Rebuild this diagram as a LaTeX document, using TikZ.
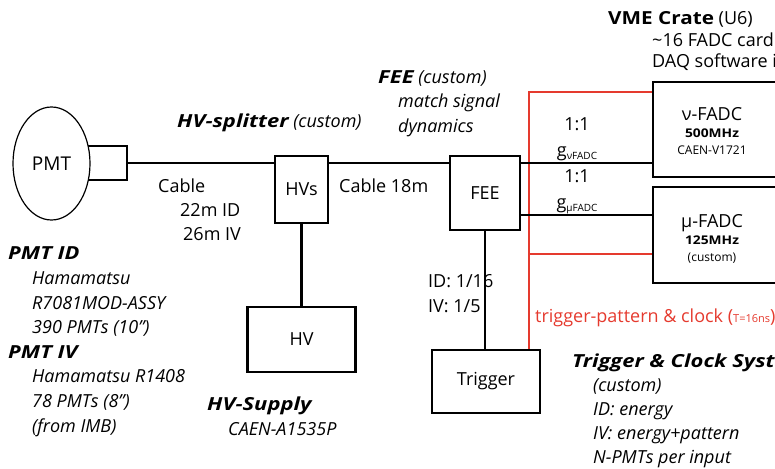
\documentclass[tikz,border=0pt]{standalone}
\usepackage{fontspec}
\setmainfont{Open Sans}[
  BoldFeatures={FakeStretch=1.15},
  BoldItalicFeatures={FakeStretch=1.22}]
\usetikzlibrary{positioning, shapes.geometric, calc}
\definecolor{cCLK}{HTML}{E53A2E}
\newcommand{\fsz}[2]{\fontsize{#1}{#2}\selectfont}
\tikzset{
  unitbox/.style 2 args={
    draw=black, line width=2.2pt,
    fill=white,
    inner sep=0pt,
    minimum width=#1,
    minimum height=#2,
    font=\fsz{18}{20}
  },
  pmtshape/.style={
    ellipse, draw=black, line width=1.2pt,
    fill=white, inner sep=0pt,
    minimum width=77pt, minimum height=113pt,
    font=\fsz{19}{22}
  },
  wire/.style={line width=2.2pt, draw=black},
  clkwire/.style={line width=1.8pt, draw=cCLK},
  note/.style={
    anchor=base west, inner sep=0pt,
    align=left,
    font=\fsz{18}{24.5}\itshape
  },
  plainnote/.style={
    note,
    font=\fsz{18}{24.5}
  }
}
\newcommand{\gsub}[1]{g\raisebox{-0.4ex}{\fsz{10}{10}#1}}
\newcommand{\fadcbox}[3]{%
  \begin{tabular}[t]{@{}c@{}}%
    {\fsz{18}{20}#1}\\[5pt]%
    {\fsz{12}{14}\bfseries #2}\\[5pt]%
    {\fsz{12}{14}#3}%
  \end{tabular}%
}

\begin{document}
\begin{tikzpicture}[x=1pt, y=-1pt]
  \useasboundingbox (0,0) rectangle (775,468);
  \clip (0,0) rectangle (775,468);

  % boxes
  \node[unitbox={39pt}{34pt}] (pmtbase) at (107.5,163) {};
  \node[pmtshape] (pmt) at (51.5,163.5) {PMT};
  \node[unitbox={53pt}{67pt}] (hvs) at (301.5,189.5) {HVs};
  \node[unitbox={108pt}{65pt}] (hv) at (301.5,339.5) {HV};
  \node[unitbox={70pt}{74pt}] (fee) at (485,193) {FEE};
  \node[unitbox={108pt}{63pt}] (trig) at (486,381.5) {Trigger};
  \node[unitbox={150pt}{95pt}] (vfadc) at (728,129.5) {};
  \node[unitbox={150pt}{96pt}] (mufadc) at (728,235) {};
  \node[anchor=base, inner sep=0pt] (vfadcTxt) at (712,120) {\fadcbox{ν-FADC}{500MHz}{CAEN-V1721}};
  \node[anchor=base, inner sep=0pt] (mufadcTxt) at (712,227) {\fadcbox{μ-FADC}{125MHz}{(custom)}};

  % trigger pattern and clock
  \coordinate (clktop) at (529,92);
  \coordinate (clkmu) at (529,254);
  \draw[clkwire] (trig.north -| clktop) -- (clktop) -- (clktop -| vfadc.west);
  \draw[clkwire] (clkmu) -- (clkmu -| mufadc.west);

  % signal and HV cables
  \draw[wire] (pmtbase.east) -- (pmtbase.east -| hvs.west);
  \draw[wire] (hvs.east |- pmtbase.east) -- (fee.west |- pmtbase.east);
  \draw[wire] (fee.east |- pmtbase.east) -- (vfadc.west |- pmtbase.east);
  \draw[wire] (fee.east |- 0,215) -- (mufadc.west |- 0,215);
  \draw[wire] (hvs) -- (hv);
  \draw[wire] (fee.south) -- (fee.south |- trig.north);

  % labels (placed at the baseline of their last line)
  \node[note] (splitNote) at (177,128) {\textbf{HV-splitter} (custom)};
  \node[plainnote, font=\fsz{18}{24}] (cableNote) at (158,240) {Cable\\\hspace*{22pt}22m ID\\\hspace*{25pt}26m IV};
  \node[note, font=\fsz{18}{24.6}\itshape] (pmtNote) at (8,432) {\textbf{PMT ID}\\\hspace*{24pt}Hamamatsu\\\hspace*{24pt}R7081MOD-ASSY\\\hspace*{24pt}390 PMTs (10”)\\\textbf{PMT IV}\\\hspace*{24pt}Hamamatsu R1408\\\hspace*{24pt}78 PMTs (8”)\\\hspace*{24pt}(from IMB)};
  \node[note, font=\fsz{18}{25}\itshape] (supplyNote) at (207,435) {\textbf{HV-Supply}\\\hspace*{21pt}CAEN-A1535P};
  \node[plainnote] (cable2Note) at (339,192) {Cable 18m};
  \node[note] (feeNote) at (378,132) {\textbf{FEE} (custom)\\\hspace*{20pt}match signal\\\hspace*{20pt}dynamics};
  \node[plainnote, font=\fsz{18}{21.5}] (vmeNote) at (608,68) {\textbf{VME Crate} (U6)\\\hspace*{44pt}\textasciitilde 16 FADC card\\\hspace*{44pt}DAQ software i};
  \node[plainnote, align=center, anchor=base, font=\fsz{18}{26}] (gainNote) at (577,208) {1:1\\\gsub{νFADC}\\1:1\\\gsub{μFADC}};
  \node[plainnote, font=\fsz{18}{25}] (ratioNote) at (428,312) {ID: 1/16\\IV: 1/5};
  \node[plainnote, text=cCLK] (clkNote) at (535,322) {trigger-pattern \& clock ({\fsz{11}{12}T=16ns})};
  \node[note, font=\fsz{18}{24}\itshape] (trigNote) at (572,463) {\textbf{Trigger \& Clock Syst}\\\hspace*{21pt}(custom)\\\hspace*{21pt}ID: energy\\\hspace*{21pt}IV: energy+pattern\\\hspace*{21pt}N-PMTs per input};
\end{tikzpicture}
\end{document}
